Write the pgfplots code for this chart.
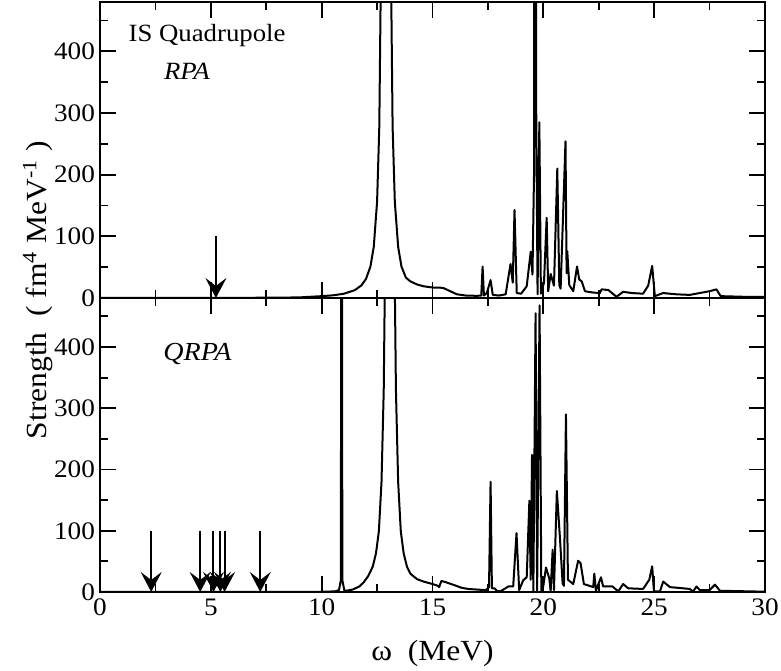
\documentclass[border=0pt]{standalone}
\usepackage{fontspec}
\setmainfont{Liberation Serif}[FakeStretch=1.08]
\usepackage{pgfplots}
\pgfplotsset{compat=1.18}
\usetikzlibrary{arrows.meta}

\pgfplotsset{
  panel/.style={
    width=332.5pt, scale only axis,
    xmin=0, xmax=30, ymin=0, ymax=480,
    xtick={0,5,...,30}, minor xtick={2.5,7.5,...,27.5},
    ytick={0,100,...,400}, minor ytick={50,150,...,450},
    tick align=inside, major tick length=8pt, minor tick length=4pt,
    tick style={line width=0.9pt, black},
    axis line style={line width=1pt},
    tick label style={font=\fontsize{12.6}{13}\selectfont},
    yticklabel style={xshift=1pt},
    /pgf/number format/assume math mode=true,
  },
  spec/.style={black, line width=1pt, mark=none, line join=round},
  arr/.style={black, line width=1pt, mark=none,
    -{Stealth[length=10pt, width=10.5pt, inset=4pt]}},
}

\begin{document}
\begin{tikzpicture}
% RPA
\begin{axis}[panel, name=top, height=148pt, xticklabels={}]
\addplot[spec] coordinates {
  (0,0.1) (5,0.2) (8,0.5) (9,1) (10,3) (10.5,4.3) (11,6.9) (11.5,12.8)
  (11.8,20.7) (12,30.9) (12.2,51) (12.35,83) (12.5,156) (12.6,278)
  (12.7,625) (12.8,2500) (12.9,5000) (13.0,2500) (13.1,625) (13.2,278)
  (13.3,156) (13.45,83) (13.6,51) (13.8,33) (14.0,27) (14.3,22) (14.6,19)
  (15.0,17) (15.3,17) (15.5,16) (15.8,11) (16.1,6) (16.5,4) (17.0,3.5)
  (17.2,4) (17.26,51) (17.32,4) (17.45,8) (17.62,29) (17.72,5) (18.0,4)
  (18.3,6) (18.52,55) (18.62,25) (18.70,143) (18.8,8) (19.0,7) (19.25,19)
  (19.43,75) (19.51,38) (19.58,200) (19.62,2000) (19.68,300) (19.74,6)
  (19.82,285) (19.89,7) (20.03,25) (20.15,130) (20.22,11) (20.33,39)
  (20.48,20) (20.63,210) (20.72,21) (20.78,15) (21.0,254) (21.05,40)
  (21.08,76) (21.17,21) (21.35,11) (21.52,51) (21.62,30) (21.73,27)
  (21.88,11) (22.2,9) (22.55,8) (22.63,14) (22.93,13) (23.3,2) (23.6,10)
  (24.0,8) (24.5,7) (24.73,20) (24.91,52) (25.03,3) (25.4,8) (26.0,6)
  (26.6,5) (27.5,11) (27.81,14) (28.0,3) (29,2) (30,2)
};
\addplot[arr] coordinates {(5.23,100) (5.23,0)};
\node[font=\fontsize{12.4}{13}\selectfont] at (axis cs:4.83,426) {IS Quadrupole};
\node[font=\fontsize{12.4}{13}\selectfont\itshape] at (axis cs:3.92,367) {RPA};
\end{axis}
% QRPA
\begin{axis}[panel, name=bot, height=147pt, at={(top.south west)}, anchor=north west]
\addplot[spec] coordinates {
  (0,0) (8,0.1) (10,0.4) (10.6,1) (10.78,3) (10.87,20) (10.9,3000)
  (10.93,20) (11.02,3) (11.1,2) (11.4,4) (11.7,9) (11.9,16) (12.1,26)
  (12.3,41) (12.45,63) (12.58,99) (12.7,180) (12.8,330) (12.85,500)
  (13.07,5000) (13.3,500) (13.35,330) (13.45,180) (13.57,99) (13.7,63)
  (13.85,41) (14.0,30) (14.3,21) (14.6,17) (15.0,13) (15.25,10) (15.3,8)
  (15.4,18) (15.6,16) (16.0,11) (16.3,7) (16.6,5) (17.0,4) (17.4,3)
  (17.55,8) (17.62,180) (17.68,6) (17.8,6) (17.9,2) (18.04,1) (18.2,4)
  (18.42,9) (18.64,9) (18.79,96) (18.91,3) (19.09,19) (19.25,24)
  (19.37,149) (19.43,20) (19.49,224) (19.55,2) (19.65,455) (19.72,1)
  (19.83,468) (19.91,1) (20.0,10) (20.12,40) (20.27,22) (20.33,1)
  (20.42,69) (20.48,3) (20.61,165) (20.75,88) (20.87,14) (20.93,10)
  (21.02,290) (21.11,20) (21.35,13) (21.57,51) (21.68,47) (21.83,13)
  (22.25,8) (22.3,30) (22.37,2) (22.6,24) (22.7,9) (23.12,9) (23.38,1)
  (23.6,13) (23.83,6) (24.5,5) (24.78,20) (24.91,42) (24.99,1) (25.26,1)
  (25.41,17) (25.71,8) (26.6,5) (26.76,1) (26.91,9) (27.06,3) (27.5,3)
  (27.74,12) (27.97,2) (30,0.5)
};
\addplot[arr] coordinates {(2.31,100) (2.31,0)};
\addplot[arr] coordinates {(4.52,100) (4.52,0)};
\addplot[arr] coordinates {(5.12,100) (5.12,0)};
\addplot[arr] coordinates {(5.43,100) (5.43,0)};
\addplot[arr] coordinates {(5.62,100) (5.62,0)};
\addplot[arr] coordinates {(7.23,100) (7.23,0)};
\node[font=\fontsize{13}{14}\selectfont\itshape] at (axis cs:4.40,389) {QRPA};
\end{axis}
\node[rotate=90, font=\fontsize{14.6}{15}\selectfont] at ([xshift=-31pt, yshift=4pt]top.south west)
  {Strength~~( fm\textsuperscript{4} MeV\textsuperscript{-1} )};
\node[font=\fontsize{14.6}{15}\selectfont] at ([yshift=-30.5pt]bot.south) {ω~~(MeV)};
\pgfresetboundingbox
\path ([xshift=-50pt, yshift=-39.5pt]bot.south west) rectangle ([xshift=8pt, yshift=1pt]top.north east);
\end{tikzpicture}
\end{document}
